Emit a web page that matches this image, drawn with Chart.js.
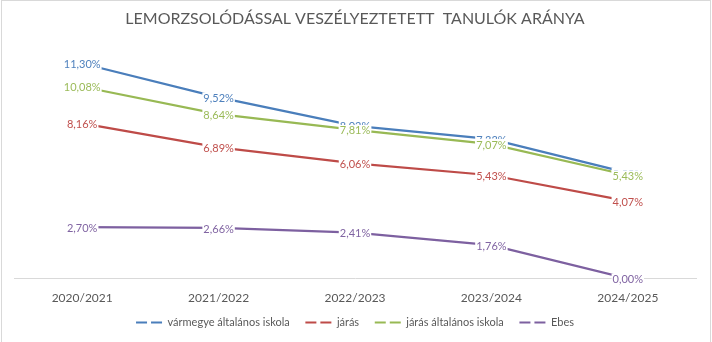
<!DOCTYPE html>
<html>
<head>
<meta charset="utf-8">
<title>Lemorzsolódással veszélyeztetett tanulók aránya</title>
<script src="https://cdn.jsdelivr.net/npm/chart.js@4"></script>
<style>
  html, body { margin: 0; padding: 0; background: #fff; }
  canvas { display: block; }
</style>
</head>
<body>
<canvas id="myChart" width="712" height="342"></canvas>
<script>
// tanévek
var years = ['2020/2021', '2021/2022', '2022/2023', '2023/2024', '2024/2025'];

// arányok (%)
var varmegyeAltalanos = [11.30, 9.52, 8.02, 7.33, 5.55];
var jaras = [8.16, 6.89, 6.06, 5.43, 4.07];
var jarasAltalanos = [10.08, 8.64, 7.81, 7.07, 5.43];
var ebes = [2.70, 2.66, 2.41, 1.76, 0.00];

var lineColors = ['#4a7ebb', '#be4b48', '#98b954', '#7d60a0'];
var labelColors = ['#4f81bd', '#c0504d', '#9bbb59', '#8064a2'];

Chart.defaults.font.family = 'Lato';

// value labels centred on each point, on a white box
var valueLabels = {
    id: 'valueLabels',
    afterDatasetsDraw: function(chart) {
        var ctx = chart.ctx;
        ctx.save();
        ctx.font = '11px Lato';
        ctx.textAlign = 'center';
        ctx.textBaseline = 'middle';
        chart.data.datasets.forEach(function(ds, i) {
            chart.getDatasetMeta(i).data.forEach(function(pt, j) {
                var text = ds.data[j].toFixed(2).replace('.', ',') + '%';
                var w = ctx.measureText(text).width;
                ctx.fillStyle = '#fff';
                ctx.fillRect(pt.x - w / 2 - 1, pt.y - 5, w + 2, 11);
                ctx.fillStyle = labelColors[i];
                ctx.fillText(text, pt.x, pt.y + 1);
            });
        });
        ctx.restore();
    }
};

// thin frame round the whole chart
var frame = {
    id: 'frame',
    afterDraw: function(chart) {
        var ctx = chart.ctx;
        ctx.save();
        ctx.strokeStyle = '#d9d9d9';
        ctx.lineWidth = 1;
        ctx.strokeRect(1.5, 0.5, chart.width - 3, chart.height + 5);
        ctx.restore();
    }
};

function series(label, data, i) {
    return {
        label: label,
        data: data,
        borderColor: lineColors[i],
        backgroundColor: lineColors[i],
        borderWidth: 2.25,
        pointRadius: 0,
        tension: 0
    };
}

var ctx = document.getElementById('myChart').getContext('2d');
var chart = new Chart(ctx, {
    type: 'line',
    data: {
        labels: years,
        datasets: [
            series('vármegye általános iskola', varmegyeAltalanos, 0),
            series('járás', jaras, 1),
            series('járás általános iskola', jarasAltalanos, 2),
            series('Ebes', ebes, 3)
        ]
    },
    options: {
        responsive: false,
        animation: false,
        layout: { padding: { left: 14, right: 16, top: 0, bottom: 4 } },
        plugins: {
            title: {
                display: true,
                text: 'LEMORZSOLÓDÁSSAL VESZÉLYEZTETETT  TANULÓK ARÁNYA',
                color: '#595959',
                font: { size: 16, weight: 'normal' },
                padding: { top: 9, bottom: 22 }
            },
            legend: {
                position: 'bottom',
                labels: {
                    color: '#595959',
                    font: { size: 11 },
                    usePointStyle: true,
                    pointStyle: 'line',
                    pointStyleWidth: 26,
                    boxHeight: 8,
                    padding: 10,
                    generateLabels: function(chart) {
                        var items = Chart.defaults.plugins.legend.labels.generateLabels(chart);
                        return items.map(function(item, i) {
                            item.pointStyle = 'line';
                            item.lineDash = [11, 4];
                            item.lineWidth = 2;
                            // a bit of extra room between the entries
                            if (i < items.length - 1) item.text = item.text + '  ';
                            return item;
                        });
                    }
                }
            },
            tooltip: { enabled: false }
        },
        scales: {
            x: {
                offset: true,
                grid: { display: false, drawTicks: false },
                border: { display: true, color: '#d9d9d9', width: 1 },
                ticks: { color: '#595959', font: { size: 12 }, padding: 12 },
                // let the plot run closer to the legend
                afterFit: function(axis) { axis.height -= 10; }
            },
            y: {
                display: false,
                min: 0,
                max: 12
            }
        }
    },
    plugins: [valueLabels, frame]
});
</script>
</body>
</html>
